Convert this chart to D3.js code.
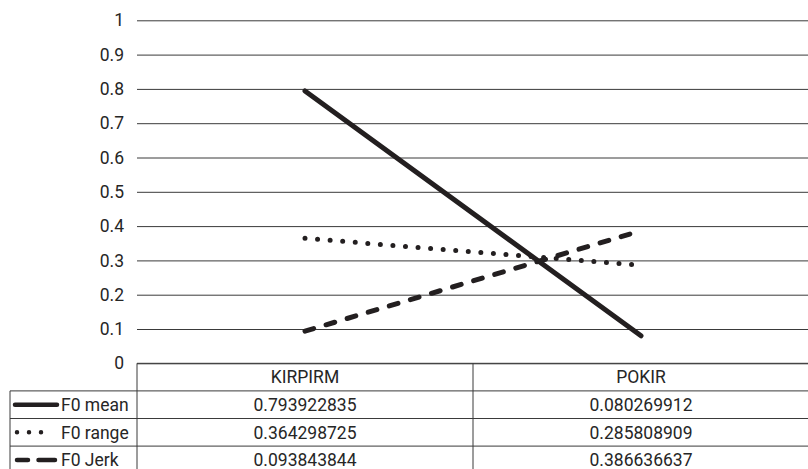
<!DOCTYPE html>
<html>
<head>
<meta charset="utf-8">
<script src="https://cdn.jsdelivr.net/npm/d3@7"></script>
<style>
  html, body { margin: 0; padding: 0; background: #fff; }
  svg { display: block; }
  text { font-family: Roboto, "Noto Sans", sans-serif; fill: #262626; }
</style>
</head>
<body>
<svg id="chart" width="808" height="469"></svg>
<script>
// Categories and series values
const categories = ["KIRPIRM", "POKIR"];
const seriesNames = ["F0 mean", "F0 range", "F0 Jerk"];
const f0Mean  = [0.793922835, 0.080269912];
const f0Range = [0.364298725, 0.285808909];
const f0Jerk  = [0.093843844, 0.386636637];
const yTicks = [0, 0.1, 0.2, 0.3, 0.4, 0.5, 0.6, 0.7, 0.8, 0.9, 1];

const series = [
  { name: seriesNames[0], values: f0Mean,  dash: null,     keyDash: null,           keyX: [15, 57] },
  { name: seriesNames[1], values: f0Range, dash: "0,12.6", keyDash: "0,12",         keyX: [17, 42] },
  { name: seriesNames[2], values: f0Jerk,  dash: "9,13",   keyDash: "11,10.5,16.5", keyX: [17, 55] }
];

const svg = d3.select("#chart");
const plotLeft = 137, plotRight = 809, plotTop = 20.3, plotBottom = 363.3;
const tableLeft = 10, rowH = 27.6;
const fontSize = 17.5;
const lineColor = "#231f20";
const gridColor = "#3a3a3a";

const x = d3.scaleBand().domain(categories).range([plotLeft, plotRight]);
const y = d3.scaleLinear().domain([0, 1]).range([plotBottom, plotTop]);

// Horizontal gridlines with tick labels on the left
const yAxis = d3.axisLeft(y).tickValues(yTicks).tickSize(-(plotRight - plotLeft)).tickPadding(13)
  .tickFormat(d => d3.format("")(+d.toFixed(1)));
const gAxis = svg.append("g").attr("transform", `translate(${plotLeft},0)`).call(yAxis);
gAxis.select(".domain").remove();
gAxis.selectAll(".tick line").attr("stroke", gridColor).attr("stroke-width", 1);
gAxis.selectAll(".tick text").attr("font-size", fontSize).attr("fill", "#262626")
  .style("font-family", "Roboto, sans-serif");

// Series lines
const line = d3.line()
  .x((d, i) => x(categories[i]) + x.bandwidth() / 2)
  .y(d => y(d));

svg.append("g").selectAll("path").data(series).join("path")
  .attr("d", d => line(d.values))
  .attr("fill", "none")
  .attr("stroke", lineColor)
  .attr("stroke-width", 5)
  .attr("stroke-linecap", "round")
  .attr("stroke-dasharray", d => d.dash);

// Data table beneath the plot
const table = svg.append("g");
const rowTops = [plotBottom, plotBottom + rowH, plotBottom + 2 * rowH, plotBottom + 3 * rowH];
const tableBottom = plotBottom + 4 * rowH;

// header row: category names
table.selectAll("text.cat").data(categories).join("text")
  .attr("class", "cat")
  .attr("x", d => x(d) + x.bandwidth() / 2)
  .attr("y", rowTops[0] + rowH / 2)
  .attr("dy", "0.36em")
  .attr("text-anchor", "middle")
  .attr("font-size", fontSize)
  .text(d => d);

// value rows
series.forEach((s, r) => {
  const top = rowTops[r + 1];
  table.selectAll(null).data(s.values).join("text")
    .attr("x", (d, i) => x(categories[i]) + x.bandwidth() / 2)
    .attr("y", top + rowH / 2)
    .attr("dy", "0.36em")
    .attr("text-anchor", "middle")
    .attr("font-size", fontSize)
    .text(d => d3.format(".9f")(d));

  // legend key and series name
  const ky = top + rowH / 2;
  table.append("line")
    .attr("x1", s.keyX[0]).attr("x2", s.keyX[1])
    .attr("y1", ky).attr("y2", ky)
    .attr("stroke", lineColor).attr("stroke-width", 4.5)
    .attr("stroke-linecap", "round")
    .attr("stroke-dasharray", s.keyDash);
  table.append("text")
    .attr("x", 61).attr("y", ky).attr("dy", "0.36em")
    .attr("font-size", fontSize)
    .text(s.name);
});

// table rules
const hRules = [
  { y: rowTops[0], x1: plotLeft },
  { y: rowTops[1], x1: tableLeft },
  { y: rowTops[2], x1: tableLeft },
  { y: rowTops[3], x1: tableLeft },
  { y: tableBottom, x1: tableLeft }
];
table.selectAll("line.h").data(hRules).join("line")
  .attr("class", "h")
  .attr("x1", d => d.x1).attr("x2", plotRight)
  .attr("y1", d => d.y).attr("y2", d => d.y)
  .attr("stroke", gridColor).attr("stroke-width", 1);

const vRules = [
  { x: tableLeft, y1: rowTops[1] },
  { x: plotLeft, y1: rowTops[0] },
  { x: x(categories[1]), y1: rowTops[0] },
  { x: plotRight - 0.5, y1: rowTops[0] }
];
table.selectAll("line.v").data(vRules).join("line")
  .attr("class", "v")
  .attr("x1", d => d.x).attr("x2", d => d.x)
  .attr("y1", d => d.y1).attr("y2", tableBottom)
  .attr("stroke", gridColor).attr("stroke-width", 1);
</script>
</body>
</html>
